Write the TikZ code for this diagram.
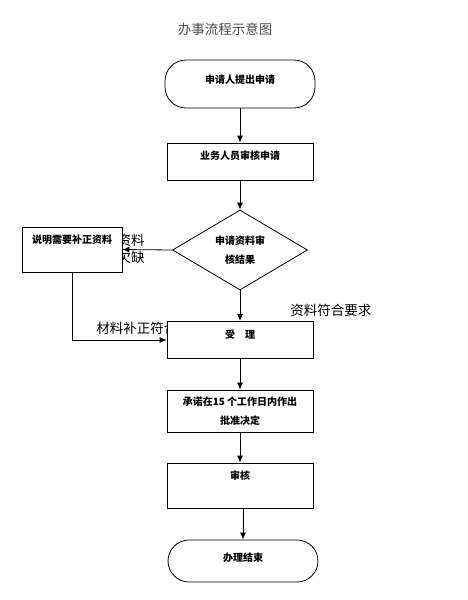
\documentclass[tikz,border=0pt]{standalone}
\usepackage{fontspec}
\newfontfamily\cjk{Noto Sans CJK SC}
\usetikzlibrary{shapes.geometric,arrows.meta}

\begin{document}
\begin{tikzpicture}[x=1pt,y=-1pt,line width=0.8pt,
  box/.style={draw,fill=white,minimum width=146pt,minimum height=37pt,inner sep=0pt},
  term/.style={draw,fill=white,rounded corners=21pt,minimum width=150pt,minimum height=44pt,inner sep=0pt},
  txt/.style={font=\cjk\bfseries\fontsize{10}{19}\selectfont,align=center,inner sep=0pt},
  big/.style={font=\cjk\fontsize{13.5}{17}\selectfont,inner sep=0pt,align=center},
  arr/.style={-{Latex[length=7pt,width=6pt]}}]
\useasboundingbox (0,0) rectangle (467,600);

% title
\node[big,text=black!70] (title) at (225,29) {办事流程示意图};

% labels under the boxes
\node[big] (lack) at (131,249) {资料\\欠缺};
\node[big,anchor=west] (fixed) at (96,328) {材料补正符合要求};
\node[big,anchor=west] (ok) at (290,310) {资料符合要求};

% main column
\node[term,minimum height=48pt] (start) at (240,84) {};
\node[txt] at (240,80) {申请人提出申请};
\node[box] (check) at (240,161.5) {};
\node[txt] at (240,156) {业务人员审核申请};
\node[draw,diamond,fill=white,minimum width=135pt,minimum height=80pt,inner sep=0pt,txt] (result) at (240,250) {申请资料审\\核结果};
\node[box] (accept) at (240,340) {};
\node[txt] at (240,335) {受\quad 理};
\node[box,minimum height=42pt] (promise) at (240,411) {};
\node[txt] at (240,411) {承诺在15 个工作日内作出\\批准决定};
\node[box,minimum height=45pt] (review) at (240,485.5) {};
\node[txt] at (240,476) {审核};
\node[term,minimum height=42pt] (finish) at (243,561) {};
\node[txt] at (243,558) {办理结束};

% left box
\node[draw,fill=white,minimum width=100pt,minimum height=45pt,inner sep=0pt] (notice) at (72,249.5) {};
\node[txt] at (72,240) {说明需要补正资料};

% connectors
\draw[arr] (start) -- (check);
\draw[arr] (check) -- (result);
\draw[arr] (result) -- (accept);
\draw[arr] (result.west) -- (notice.east);
\draw[arr] (notice.south) |- (accept.west);
\draw[arr] (accept) -- (promise);
\draw[arr] (promise) -- (review);
\draw[arr] (review.south -| finish) -- (finish);
\end{tikzpicture}
\end{document}
